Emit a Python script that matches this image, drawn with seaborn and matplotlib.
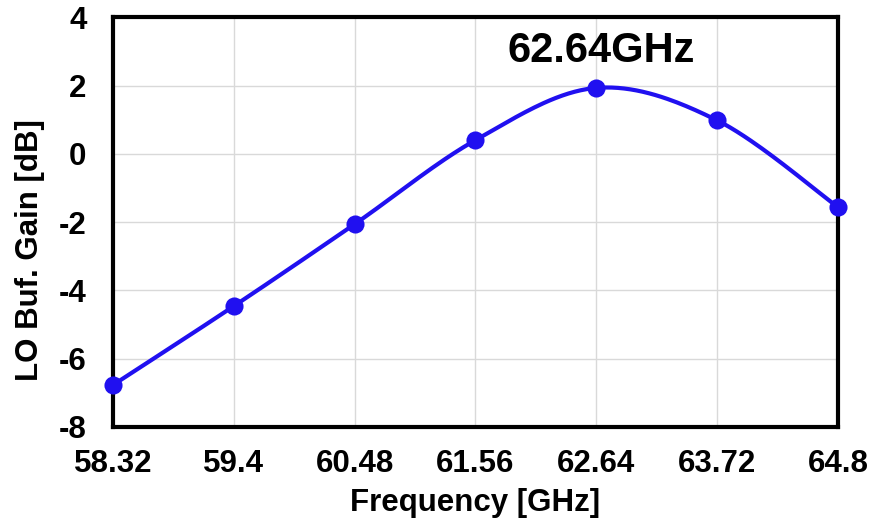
import numpy as np
import pandas as pd
import matplotlib
matplotlib.use("Agg")
import matplotlib.pyplot as plt
import seaborn as sns

# Data
freq = [58.32, 59.4, 60.48, 61.56, 62.64, 63.72, 64.8]
gain = [-6.77, -4.46, -2.06, 0.40, 1.93, 0.98, -1.56]
xtick_labels = ["58.32", "59.4", "60.48", "61.56", "62.64", "63.72", "64.8"]
yticks = [-8, -6, -4, -2, 0, 2, 4]
peak_label = "62.64GHz"

sns.set_theme(style="white")
plt.rcParams['font.family'] = ['Liberation Sans', 'DejaVu Sans']
plt.rcParams['font.weight'] = 'bold'
plt.rcParams['axes.unicode_minus'] = False
plt.rcParams['text.color'] = 'black'
plt.rcParams['axes.labelcolor'] = 'black'
plt.rcParams['xtick.color'] = 'black'
plt.rcParams['ytick.color'] = 'black'

BLUE = "#2010f0"
FS = 22.5

# Smoothed line (Catmull-Rom, like spreadsheet smoothing)
def catmull_rom(x, y, n=40):
    P = np.column_stack([x, y]).astype(float)
    P = np.vstack([P[0], P, P[-1]])
    out = []
    for i in range(1, len(P) - 2):
        p0, p1, p2, p3 = P[i - 1], P[i], P[i + 1], P[i + 2]
        c1 = p1 + (p2 - p0) / 6.0
        c2 = p2 - (p3 - p1) / 6.0
        t = np.linspace(0, 1, n)[:, None]
        seg = ((1 - t) ** 3) * p1 + 3 * ((1 - t) ** 2) * t * c1 + 3 * (1 - t) * t ** 2 * c2 + t ** 3 * p2
        out.append(seg if i == 1 else seg[1:])
    return np.vstack(out)

curve = catmull_rom(freq, gain)
df_curve = pd.DataFrame({"x": curve[:, 0], "y": curve[:, 1]})
df_pts = pd.DataFrame({"Frequency": freq, "Gain": gain})

fig = plt.figure(figsize=(8.71, 5.22), dpi=100)
ax = fig.add_axes([0.1297, 0.182, 0.8323, 0.785])

ax.grid(True, color="#d9d9d9", linewidth=1.0)
ax.set_axisbelow(True)

sns.lineplot(data=df_curve, x="x", y="y", sort=False, color=BLUE, linewidth=3.0, ax=ax, zorder=3)
sns.scatterplot(data=df_pts, x="Frequency", y="Gain", color=BLUE, s=170, edgecolor=BLUE, linewidth=0, ax=ax, zorder=4, clip_on=False)

ax.set_xlim(58.32, 64.8)
ax.set_ylim(-8, 4)
ax.set_xticks(freq)
ax.set_xticklabels(xtick_labels)
ax.set_yticks(yticks)
ax.tick_params(axis="x", labelsize=FS, length=0, pad=16)
ax.tick_params(axis="y", labelsize=FS, length=0, pad=19)
for lab in ax.get_xticklabels() + ax.get_yticklabels():
    lab.set_fontweight("bold")

ax.set_xlabel("Frequency [GHz]", fontsize=FS, fontweight="bold", labelpad=6)
ax.set_ylabel("LO Buf. Gain [dB]", fontsize=FS, fontweight="bold")
ax.yaxis.set_label_coords(-0.094, 0.432)

for sp in ax.spines.values():
    sp.set_visible(True)
    sp.set_color("black")
    sp.set_linewidth(3.0)

ax.text(62.68, 2.68, peak_label, ha="center", va="baseline", fontsize=30, fontweight="bold")

fig.savefig("out.png", dpi=100)
